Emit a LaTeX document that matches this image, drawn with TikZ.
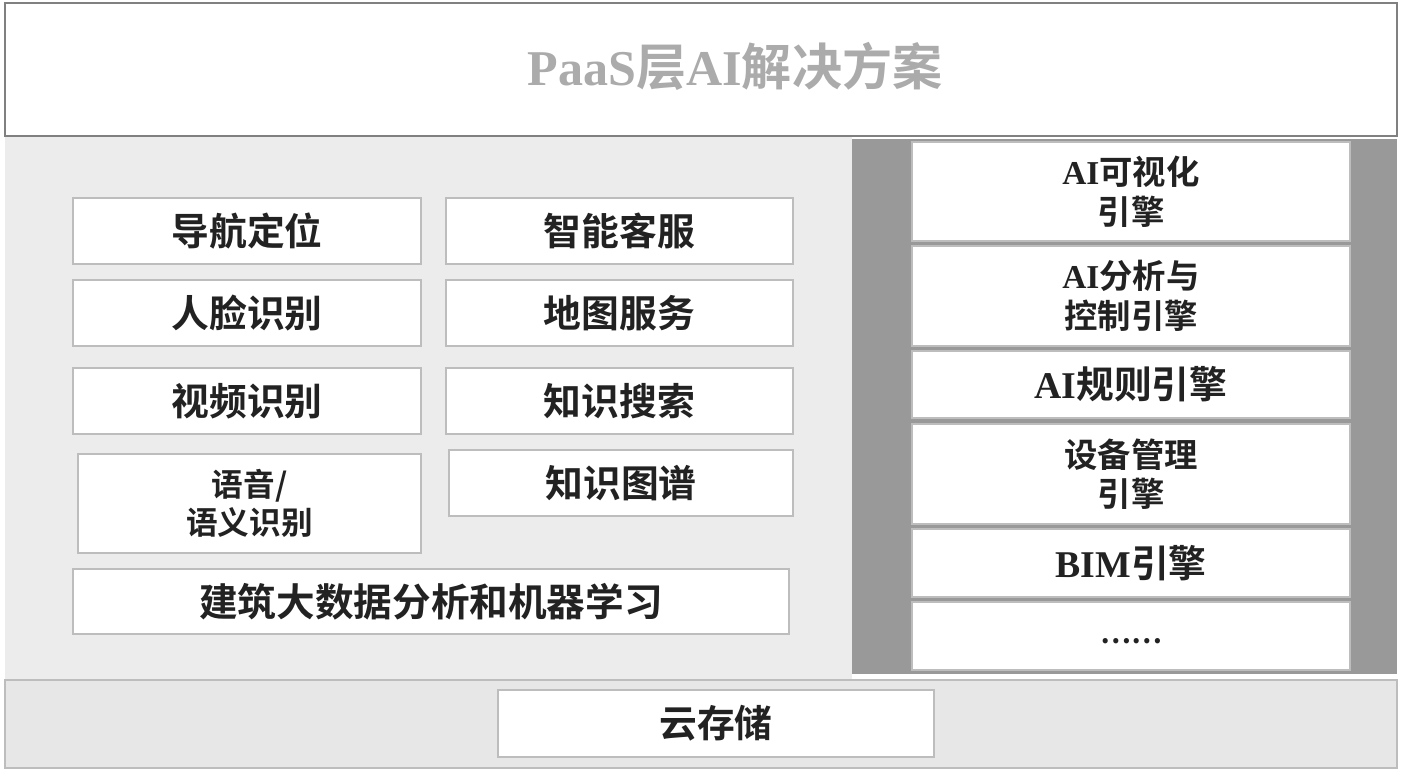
\documentclass[tikz,border=0pt]{standalone}
\usepackage{fontspec}
\setmainfont{Noto Sans CJK SC Bold}
\newfontfamily\xiti{Liberation Serif}
\usepackage{xcolor}
\definecolor{bianxian}{HTML}{BDBDBD}
\definecolor{qianhui}{HTML}{ECECEC}
\definecolor{shenhui}{HTML}{999999}
\definecolor{biaoti}{HTML}{ABABAB}
\definecolor{zihei}{HTML}{222222}

\begin{document}
\begin{tikzpicture}[x=0.02cm,y=-0.02cm,
	box/.style={draw=bianxian,line width=1.1pt,fill=white,inner sep=0pt,
		align=center,text=zihei,font=\fontsize{21.5}{24}\selectfont},
	engine/.style={box,minimum width=8.76cm,font=\fontsize{19}{22.5}\selectfont}]
	\useasboundingbox (0,0) rectangle (1404,772);
	% 背景
	\fill[white] (0,0) rectangle (1404,772);
	% 中间左侧浅灰区域
	\fill[qianhui] (5,137) rectangle (852,679);
	% 右侧深灰区域
	\fill[shenhui] (852,139) rectangle (1397,674);
	% 底部区域
	\draw[draw=bianxian,line width=1.5pt,fill=qianhui!95!gray] (5,680) rectangle (1397,768);
	
	% 标题
	\draw[gray,line width=1.1pt,fill=white] (5,3) rectangle (1397,136);
	\node[text=biaoti,font=\fontsize{28.5}{30}\selectfont] (title) at (735,66)
		{{\xiti\bfseries PaaS}层{\xiti\bfseries AI}解决方案};
	
	% 左侧功能模块
	\node[box,minimum width=6.96cm,minimum height=1.32cm] (daohang) at (247,231) {导航定位};
	\node[box,minimum width=6.94cm,minimum height=1.32cm] (kefu) at (619.5,231) {智能客服};
	\node[box,minimum width=6.96cm,minimum height=1.32cm] (renlian) at (247,313) {人脸识别};
	\node[box,minimum width=6.94cm,minimum height=1.32cm] (ditu) at (619.5,313) {地图服务};
	\node[box,minimum width=6.96cm,minimum height=1.32cm] (shipin) at (247,401) {视频识别};
	\node[box,minimum width=6.94cm,minimum height=1.32cm] (sousuo) at (619.5,401) {知识搜索};
	\node[box,minimum width=6.86cm,minimum height=1.98cm,font=\fontsize{18}{22}\selectfont]
		(yuyin) at (249.5,503.5) {语音/\\语义识别};
	\node[box,minimum width=6.88cm,minimum height=1.32cm] (tupu) at (621,483) {知识图谱};
	\node[box,minimum width=14.32cm,minimum height=1.30cm,font=\fontsize{22}{24}\selectfont]
		(dashuju) at (431,601.5) {建筑大数据分析和机器学习};
	
	% 右侧引擎
	\node[engine,minimum height=1.98cm] (keshihua) at (1131,191.5) {{\xiti\bfseries AI}可视化\\引擎};
	\node[engine,minimum height=2.00cm] (kongzhi) at (1131,296) {{\xiti\bfseries AI}分析与\\控制引擎};
	\node[engine,minimum height=1.34cm,font=\fontsize{21.5}{24}\selectfont] (guize) at (1131,384.5) {{\xiti\bfseries AI}规则引擎};
	\node[engine,minimum height=2.00cm] (shebei) at (1131,474) {设备管理\\引擎};
	\node[engine,minimum height=1.36cm,font=\fontsize{21.5}{24}\selectfont] (bim) at (1131,563) {{\xiti\bfseries BIM}引擎};
	\node[engine,minimum height=1.36cm,font=\fontsize{16}{20}\selectfont] (gengduo) at (1131,636) {\raisebox{-9pt}{……}};
	
	% 云存储
	\node[box,minimum width=8.72cm,minimum height=1.34cm] (yuncunchu) at (716,723.5) {云存储};
\end{tikzpicture}
\end{document}
